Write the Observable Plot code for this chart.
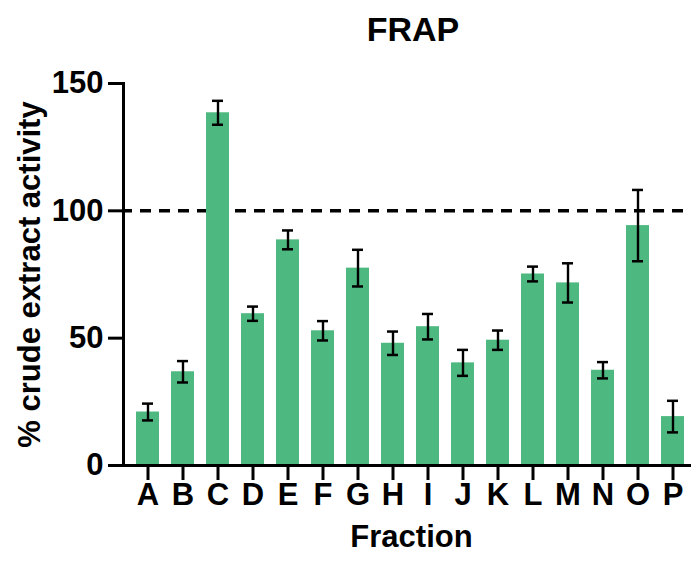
<!DOCTYPE html>
<html>
<head>
<meta charset="utf-8">
<script src="https://cdn.jsdelivr.net/npm/d3@7"></script>
<script src="https://cdn.jsdelivr.net/npm/@observablehq/plot@0.6"></script>
<style>
  html, body { margin: 0; padding: 0; background: white; }
</style>
</head>
<body>
<div id="chart"></div>
<script>
const fractions = ["A","B","C","D","E","F","G","H","I","J","K","L","M","N","O","P"];
const means  = [21.0, 36.8, 138.5, 59.6, 88.6, 52.9, 77.5, 48.0, 54.5, 40.3, 49.2, 75.2, 71.7, 37.4, 94.2, 19.2];
const errors = [3.3, 4.2, 4.7, 2.8, 3.7, 3.8, 7.2, 4.6, 5.0, 5.1, 3.8, 2.9, 7.7, 3.2, 14.0, 6.2];
const yTicks = [0, 50, 100, 150];
const referenceLine = [100];
const title = "FRAP";
const xLabel = "Fraction";
const yLabel = "% crude extract activity";

const data = fractions.map((f, i) => ({fraction: f, value: means[i], lo: means[i] - errors[i], hi: means[i] + errors[i]}));

const font = "'Liberation Sans', Arial, Helvetica, sans-serif";

const chart = Plot.plot({
  width: 691,
  height: 574,
  marginLeft: 123,
  marginRight: 1,
  marginTop: 83,
  marginBottom: 109,
  style: {fontFamily: font, fontWeight: "bold", background: "white", color: "black"},
  x: {domain: fractions, range: [123, 697.3], paddingInner: 0.34, paddingOuter: 0.33, align: 0.5, axis: null},
  y: {domain: [0, 150], axis: null},
  marks: [
    Plot.ruleY(referenceLine, {stroke: "black", strokeWidth: 3.5, strokeDasharray: "11,8", strokeDashoffset: 2}),
    Plot.barY(data, {x: "fraction", y: "value", fill: "#4db87f"}),
    Plot.ruleX(data, {x: "fraction", y1: "lo", y2: "hi", stroke: "black", strokeWidth: 2.4}),
    Plot.tickY(data, {x: "fraction", y: "hi", insetLeft: 6, insetRight: 6, stroke: "black", strokeWidth: 2.5}),
    Plot.tickY(data, {x: "fraction", y: "lo", insetLeft: 6, insetRight: 6, stroke: "black", strokeWidth: 2.5}),
    Plot.axisY({ticks: yTicks, tickSize: 15, strokeWidth: 3, label: null, tickFormat: () => ""}),
    Plot.axisX({tickSize: 15, strokeWidth: 3, label: null, tickFormat: () => ""}),
    Plot.text(yTicks, {y: d => d, frameAnchor: "left", dx: -20, textAnchor: "end", lineAnchor: "middle", fontSize: 31, fontWeight: "bold", fill: "black"}),
    Plot.text(fractions, {x: d => d, frameAnchor: "bottom", dy: 30, textAnchor: "middle", lineAnchor: "middle", fontSize: 31, fontWeight: "bold", fill: "black"}),
    Plot.frame({anchor: "left", stroke: "black", strokeWidth: 3}),
    Plot.frame({anchor: "bottom", stroke: "black", strokeWidth: 3}),
    Plot.text([title], {frameAnchor: "top", dx: 6, dy: -53, fontSize: 34, fontWeight: "bold", lineAnchor: "middle", fill: "black"}),
    Plot.text([xLabel], {frameAnchor: "bottom", dx: 4.5, dy: 72, fontSize: 31, fontWeight: "bold", lineAnchor: "middle", fill: "black"}),
    Plot.text([yLabel], {frameAnchor: "left", dx: -93, rotate: -90, textAnchor: "middle", fontSize: 31, fontWeight: "bold", lineAnchor: "middle", fill: "black"})
  ]
});
document.getElementById("chart").appendChild(chart);
</script>
</body>
</html>
